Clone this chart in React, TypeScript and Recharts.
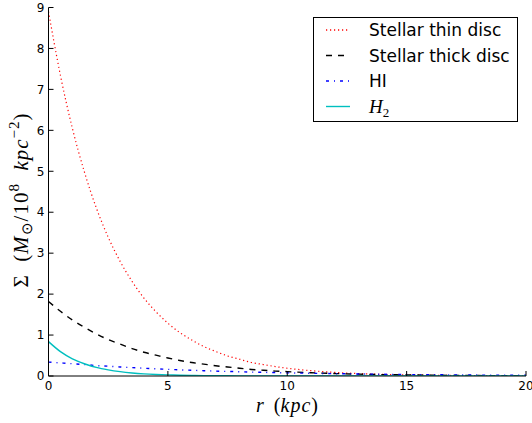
import React from 'react';
import { LineChart, Line, XAxis, YAxis } from 'recharts';

// radius in kpc, surface densities in 10^8 Msun / kpc^2
const radius = [0, 0.5, 1, 1.5, 2, 2.5, 3, 3.5, 4, 4.5, 5, 5.5, 6, 6.5, 7, 7.5, 8, 8.5, 9, 9.5, 10, 11, 12, 13, 14, 15, 16, 17, 18, 19, 20];
const thinDisc = [8.9, 7.34, 6.05, 4.99, 4.11, 3.39, 2.8, 2.31, 1.9, 1.57, 1.29, 1.06, 0.88, 0.72, 0.6, 0.49, 0.41, 0.33, 0.28, 0.23, 0.19, 0.13, 0.087, 0.059, 0.04, 0.027, 0.018, 0.012, 0.0085, 0.0058, 0.0039];
const thickDisc = [1.82, 1.58, 1.37, 1.19, 1.03, 0.89, 0.78, 0.67, 0.58, 0.51, 0.44, 0.38, 0.33, 0.29, 0.25, 0.22, 0.19, 0.16, 0.14, 0.12, 0.106, 0.08, 0.06, 0.045, 0.034, 0.026, 0.019, 0.015, 0.011, 0.008, 0.006];
const hiGas = [0.34, 0.32, 0.3, 0.28, 0.255, 0.24, 0.22, 0.205, 0.19, 0.175, 0.163, 0.15, 0.14, 0.13, 0.12, 0.112, 0.104, 0.096, 0.089, 0.083, 0.077, 0.066, 0.057, 0.049, 0.042, 0.036, 0.031, 0.027, 0.023, 0.02, 0.017];
const h2Gas = [0.84, 0.595, 0.42, 0.3, 0.21, 0.15, 0.106, 0.075, 0.053, 0.038, 0.027, 0.019, 0.013, 0.0095, 0.0067, 0.0048, 0.0034, 0.0024, 0.0017, 0.0012, 0.0008, 0.0004, 0.0002, 0.0001, 0, 0, 0, 0, 0, 0, 0];

const xTicks = [0, 5, 10, 15, 20];
const yTicks = [0, 1, 2, 3, 4, 5, 6, 7, 8, 9];

const rows = radius.map((r, i) => ({
  r,
  thin: thinDisc[i],
  thick: thickDisc[i],
  hi: hiGas[i],
  h2: h2Gas[i],
}));

const tickFont = { fill: '#000', fontSize: 12, fontFamily: 'DejaVu Sans' };
const mathFont = 'Liberation Serif';

const legendRows = [
  { label: 'Stellar thin disc', color: '#ff0000', dash: '1.2 2.8' },
  { label: 'Stellar thick disc', color: '#000000', dash: '6 6' },
  { label: 'HI', color: '#0000ff', dash: '3 5 1 5' },
  { label: 'H2', color: '#00bfbf', dash: undefined },
];

export default function App() {
  return (
    <div style={{ position: 'absolute', left: 0, top: 0, width: 532, height: 423, background: '#fff' }}>
      <LineChart width={532} height={423} data={rows} margin={{ top: 7.5, right: 6, bottom: 0, left: 0 }}>
        <XAxis
          dataKey="r"
          type="number"
          domain={[0, 20]}
          ticks={xTicks}
          height={47}
          tickSize={-5}
          tickMargin={10}
          tick={tickFont}
          stroke="#000"
          tickLine={{ stroke: '#000' }}
        />
        <XAxis
          xAxisId="top"
          dataKey="r"
          type="number"
          orientation="top"
          domain={[0, 20]}
          ticks={xTicks}
          height={0}
          tickSize={-5}
          tickFormatter={() => ''}
          stroke="#000"
        />
        <YAxis
          type="number"
          domain={[0, 9]}
          ticks={yTicks}
          width={48.5}
          tickSize={-5}
          tickMargin={9}
          tick={tickFont}
          stroke="#000"
          allowDataOverflow
        />
        <YAxis
          yAxisId="right"
          type="number"
          orientation="right"
          domain={[0, 9]}
          ticks={yTicks}
          width={0}
          tickSize={-5}
          tickFormatter={() => ''}
          stroke="#000"
        />
        <Line type="monotone" dataKey="thin" stroke="#ff0000" strokeWidth={1.2} strokeDasharray="1.2 2.8" dot={false} isAnimationActive={false} />
        <Line type="monotone" dataKey="thick" stroke="#000000" strokeWidth={1.4} strokeDasharray="6 6" dot={false} isAnimationActive={false} />
        <Line type="monotone" dataKey="hi" stroke="#0000ff" strokeWidth={1.4} strokeDasharray="3 5 1 5" dot={false} isAnimationActive={false} />
        <Line type="monotone" dataKey="h2" stroke="#00bfbf" strokeWidth={1.4} dot={false} isAnimationActive={false} />
      </LineChart>

      {/* axis labels and legend drawn on top */}
      <svg width={532} height={423} style={{ position: 'absolute', left: 0, top: 0, pointerEvents: 'none' }}>
        <text x={287} y={412} textAnchor="middle" fontFamily={mathFont} fontSize={20}>
          <tspan fontStyle="italic">r</tspan>
          <tspan>{'\u00a0\u00a0('}</tspan>
          <tspan fontStyle="italic" letterSpacing={1}>kpc</tspan>
          <tspan>)</tspan>
        </text>

        <text transform="translate(28,200) rotate(-90)" textAnchor="middle" fontFamily={mathFont} fontSize={21} letterSpacing={1}>
          <tspan>{'Σ\u00a0\u00a0('}</tspan>
          <tspan fontStyle="italic">M</tspan>
          <tspan fontSize={15} dy={4}>⊙</tspan>
          <tspan dy={-4}>/10</tspan>
          <tspan fontSize={15} dy={-9}>8</tspan>
          <tspan dy={9}>{'\u00a0\u00a0'}</tspan>
          <tspan fontStyle="italic">kpc</tspan>
          <tspan fontSize={15} dy={-9}>−2</tspan>
          <tspan dy={9}>)</tspan>
        </text>

        <rect x={313.5} y={17.5} width={204} height={104} fill="#fff" stroke="#000" strokeWidth={1} />
        {legendRows.map((row, i) => {
          const cy = 30 + i * 25.5;
          return (
            <g key={row.label}>
              <line x1={326} x2={350} y1={cy} y2={cy} stroke={row.color} strokeWidth={1.4} strokeDasharray={row.dash} />
              {row.label === 'H2' ? (
                <text x={369} y={cy + 6} fontFamily={mathFont} fontSize={19}>
                  <tspan fontStyle="italic">H</tspan>
                  <tspan fontSize={13} dy={4}>2</tspan>
                </text>
              ) : (
                <text x={369} y={cy + 6} fontFamily="DejaVu Sans" fontSize={17}>
                  {row.label}
                </text>
              )}
            </g>
          );
        })}
      </svg>
    </div>
  );
}
